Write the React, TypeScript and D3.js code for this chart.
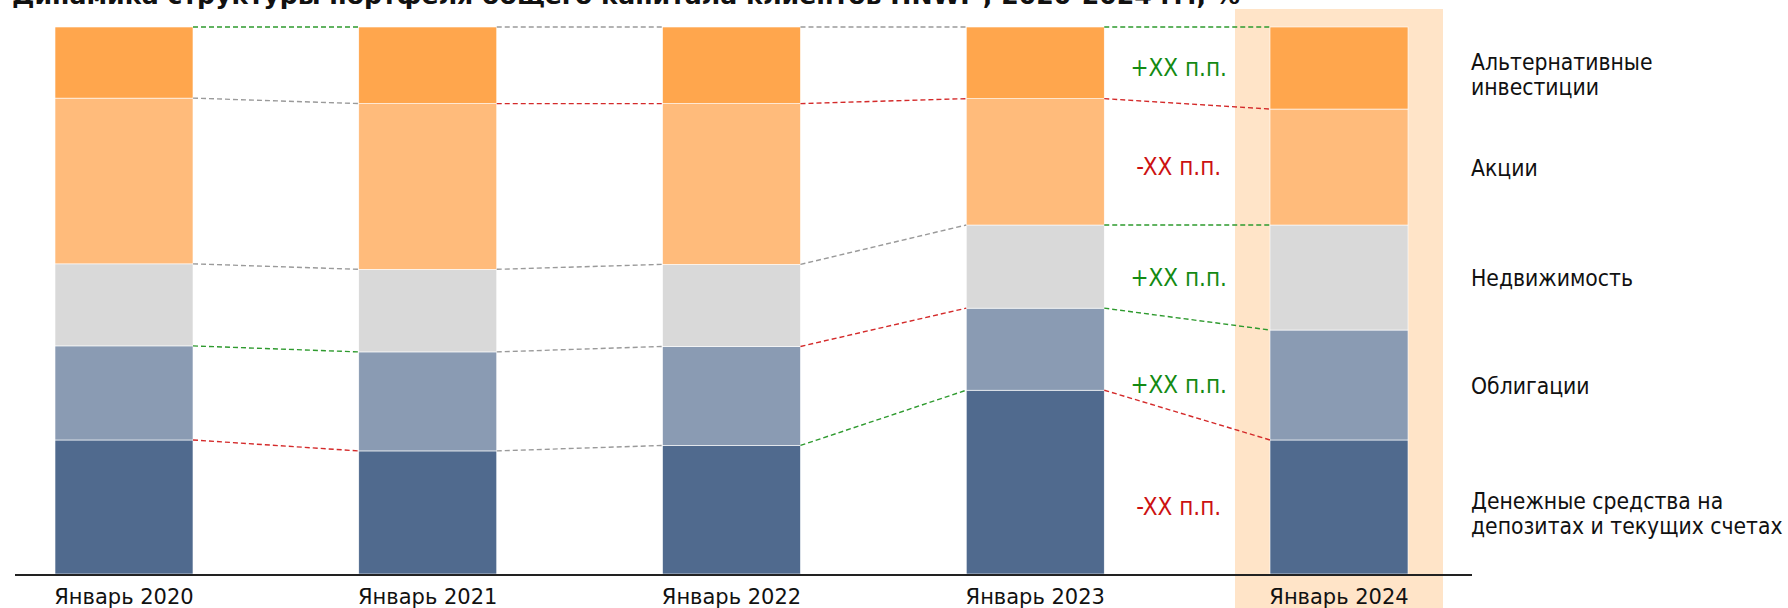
import React from "react";
import * as d3 from "d3";

const TITLE = "Динамика структуры портфеля общего капитала клиентов HNWI*, 2020-2024 гг., %";
const periods = ["Январь 2020", "Январь 2021", "Январь 2022", "Январь 2023", "Январь 2024"];

// shares, % (bottom to top)
const cash = [24.5, 22.5, 23.5, 33.6, 24.5];
const bonds = [17.2, 18.1, 18.1, 15.0, 20.1];
const realty = [15.0, 15.1, 15.0, 15.2, 19.2];
const stocks = [30.3, 30.3, 29.4, 23.1, 21.2];
const alt = [13.0, 14.0, 14.0, 13.1, 15.0];

const seriesKeys = ["cash", "bonds", "realty", "stocks", "alt"];
const seriesNames = [
  ["Денежные средства на", "депозитах и текущих счетах"],
  ["Облигации"],
  ["Недвижимость"],
  ["Акции"],
  ["Альтернативные", "инвестиции"],
];
const seriesColors = ["#506A8E", "#8A9BB3", "#D9D9D9", "#FFBB7B", "#FFA64D"];

// direction of change for the connector of each series' top edge, per transition
const connCash = ["down", "flat", "up", "down"];
const connBonds = ["up", "flat", "down", "up"];
const connRealty = ["flat", "flat", "flat", "up"];
const connStocks = ["flat", "down", "down", "down"];
const connAlt = ["up", "flat", "flat", "up"];

// last-year change labels
const deltaLabels = ["-XX п.п.", "+XX п.п.", "+XX п.п.", "-XX п.п.", "+XX п.п."];
const deltaDir = ["down", "up", "up", "down", "up"];

const W = 1788;
const H = 608;

const lineColor: Record<string, string> = { up: "#2E9A2E", down: "#D42A2A", flat: "#9A9A9A" };
const textColor: Record<string, string> = { up: "#138A13", down: "#CC1111" };

const condensed = "'DejaVu Sans Condensed', 'Liberation Sans Narrow', 'DejaVu Sans', sans-serif";

export default function App() {
  const rows = periods.map((p, i) => ({
    period: p,
    cash: cash[i],
    bonds: bonds[i],
    realty: realty[i],
    stocks: stocks[i],
    alt: alt[i],
  }));
  const stack = d3.stack<any>().keys(seriesKeys)(rows);
  const conns = [connCash, connBonds, connRealty, connStocks, connAlt];

  const x = d3.scaleBand<string>().domain(periods).range([55, 1408]).paddingInner(0.5457).paddingOuter(0);
  const y = d3.scaleLinear().domain([0, 100]).range([574, 27]);
  const bw = x.bandwidth();
  const last = periods[periods.length - 1];
  const lastX = x(last)!;
  const bandX0 = lastX - 35;
  const bandX1 = lastX + bw + 35;
  const deltaX = (x(periods[3])! + bw + bandX0) / 2 + 9;
  const labelX = 1471;
  const axisY = y(0) + 1;

  return (
    <svg
      width={W}
      height={H}
      style={{ position: "absolute", left: 0, top: 0, display: "block", background: "#fff" }}
      fontFamily="'DejaVu Sans', Verdana, sans-serif"
    >
      <rect x={bandX0} y={9} width={bandX1 - bandX0} height={H - 9} fill="#FFE4C8" />
      <text x={12} y={4} fontSize={25.2} fontWeight="bold" fill="#111">
        {TITLE}
      </text>
      {stack.map((s, si) => (
        <g key={s.key}>
          {s.map((d, i) => (
            <rect
              key={i}
              x={x(periods[i])}
              y={y(d[1])}
              width={bw}
              height={y(d[0]) - y(d[1])}
              fill={seriesColors[si]}
              stroke="#fff"
              strokeWidth={0.6}
            />
          ))}
        </g>
      ))}
      {stack.map((s, si) => (
        <g key={"c" + s.key}>
          {s.slice(0, -1).map((d, i) => {
            const nxt = s[i + 1];
            return (
              <line
                key={i}
                x1={x(periods[i])! + bw}
                x2={x(periods[i + 1])!}
                y1={y(d[1])}
                y2={y(nxt[1])}
                stroke={lineColor[conns[si][i]]}
                strokeWidth={1.4}
                strokeDasharray="5,3"
              />
            );
          })}
        </g>
      ))}
      <line x1={15} x2={1472} y1={axisY} y2={axisY} stroke="#222" strokeWidth={2} />
      {periods.map((p) => (
        <text key={p} x={x(p)! + bw / 2} y={604} fontSize={21} textAnchor="middle" fill="#111">
          {p}
        </text>
      ))}
      {stack.map((s, si) => {
        const d = s[s.length - 1];
        const cy = (y(d[0]) + y(d[1])) / 2;
        const names = seriesNames[si];
        const lh = 25;
        const shift = names.length > 1 ? 7 : 1;
        return (
          <g key={"l" + s.key}>
            <text
              x={deltaX}
              y={cy}
              dy="0.35em"
              fontSize={24}
              textAnchor="middle"
              fill={textColor[deltaDir[si]]}
              fontFamily={condensed}
              fontStretch="condensed"
            >
              {deltaLabels[si]}
            </text>
            <text x={labelX} y={cy} fontSize={22.7} fill="#111" fontFamily={condensed} fontStretch="condensed">
              {names.map((n, k) => (
                <tspan key={k} x={labelX} y={cy + shift + (k - (names.length - 1) / 2) * lh} dy="0.35em">
                  {n}
                </tspan>
              ))}
            </text>
          </g>
        );
      })}
    </svg>
  );
}
